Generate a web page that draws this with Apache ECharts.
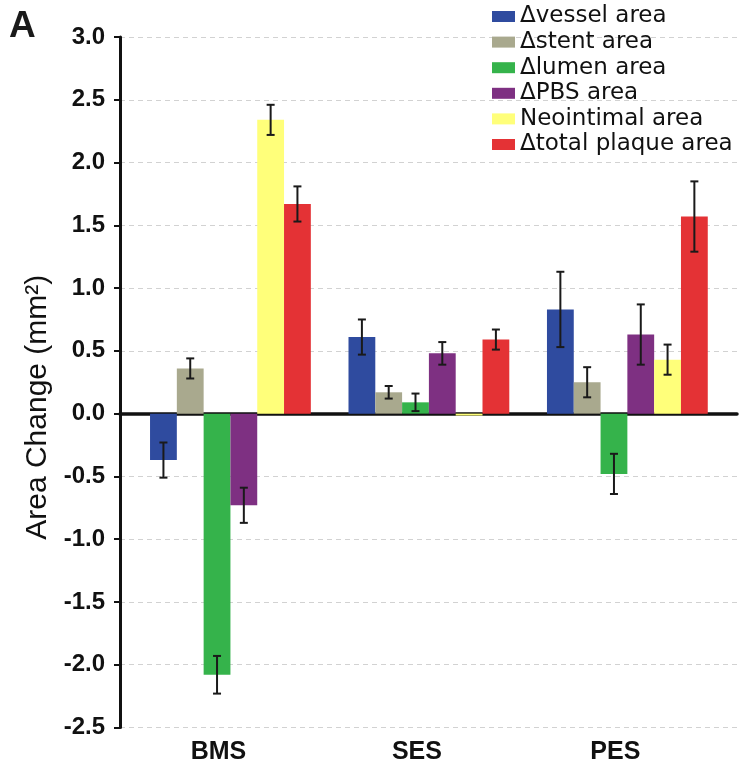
<!DOCTYPE html>
<html>
<head>
<meta charset="utf-8">
<script src="https://cdn.jsdelivr.net/npm/echarts@6/dist/echarts.min.js"></script>
<style>
html,body{margin:0;padding:0;background:#fff;}
#chart{width:739px;height:771px;}
</style>
</head>
<body>
<div id="chart"></div>
<script>
// ---- data ----
const categories = ['BMS', 'SES', 'PES'];
const seriesNames = ['Δvessel area', 'Δstent area', 'Δlumen area', 'ΔPBS area', 'Neointimal area', 'Δtotal plaque area'];
const vessel = [-0.37, 0.61, 0.83];
const vesselErr = [0.14, 0.14, 0.30];
const stent = [0.36, 0.17, 0.25];
const stentErr = [0.08, 0.05, 0.12];
const lumen = [-2.08, 0.09, -0.48];
const lumenErr = [0.15, 0.07, 0.16];
const pbs = [-0.73, 0.48, 0.63];
const pbsErr = [0.14, 0.09, 0.24];
const neointimal = [2.34, -0.015, 0.43];
const neointimalErr = [0.12, 0, 0.12];
const plaque = [1.67, 0.59, 1.57];
const plaqueErr = [0.14, 0.08, 0.28];
const yTicks = ['-2.5', '-2.0', '-1.5', '-1.0', '-0.5', '0.0', '0.5', '1.0', '1.5', '2.0', '2.5', '3.0'];

const values = [vessel, stent, lumen, pbs, neointimal, plaque];
const errors = [vesselErr, stentErr, lumenErr, pbsErr, neointimalErr, plaqueErr];
const colors = ['#2F4B9F', '#A9A98E', '#35B34B', '#7E3082', '#FFFF7A', '#E43235'];
const BAR_W = 26.8;

const errData = [];
values.forEach((arr, k) => {
  arr.forEach((v, c) => errData.push([c, k, v, errors[k][c]]));
});

const chart = echarts.init(document.getElementById('chart'), null, {renderer: 'canvas'});

const barSeries = seriesNames.map((name, k) => ({
  name: name,
  type: 'bar',
  xAxisIndex: 1,
  yAxisIndex: 1,
  data: values[k],
  barWidth: BAR_W,
  barGap: '0%',
  itemStyle: {color: colors[k]},
  emphasis: {disabled: true},
  z: 3
}));

const option = {
  animation: false,
  backgroundColor: '#ffffff',
  title: {
    text: 'A',
    left: 4,
    top: 3,
    textStyle: {fontFamily: 'Liberation Sans', fontWeight: 'bold', fontSize: 37, color: '#1a1a1a'}
  },
  legend: {
    orient: 'vertical',
    left: 492,
    top: 5,
    padding: 0,
    itemWidth: 23,
    itemHeight: 11,
    itemGap: 2.6,
    icon: 'rect',
    data: seriesNames,
    textStyle: {fontFamily: 'DejaVu Sans', fontSize: 23, color: '#111'}
  },
  grid: [
    {left: 120, right: 2, top: 37, bottom: 43.5},
    {left: 131.2, right: 12.4, top: 37, bottom: 43.5}
  ],
  xAxis: [
    {
      gridIndex: 0, type: 'value', min: 0, max: 1,
      axisLine: {show: true, onZero: true, lineStyle: {color: '#111', width: 3.5}},
      axisTick: {show: false}, axisLabel: {show: false}, splitLine: {show: false}
    },
    {
      gridIndex: 1, type: 'category', data: categories,
      axisLine: {show: false}, axisTick: {show: false},
      axisLabel: {
        margin: 12, padding: [0, 24, 0, 0],
        fontFamily: 'Liberation Sans', fontWeight: 'bold', fontSize: 25, color: '#111'
      },
      splitLine: {show: false}
    }
  ],
  yAxis: [
    {
      gridIndex: 0, type: 'value', min: -2.5, max: 3, interval: 0.5,
      name: 'Area Change (mm²)',
      nameLocation: 'middle',
      nameGap: 58,
      nameTextStyle: {fontFamily: 'Liberation Sans', fontSize: 30, color: '#111', padding: [0, 50, 0, 0]},
      axisLine: {show: true, lineStyle: {color: '#111', width: 3}},
      axisTick: {show: true, inside: false, length: 6, lineStyle: {color: '#111', width: 2}},
      axisLabel: {
        margin: 15,
        fontFamily: 'Liberation Sans', fontWeight: 'bold', fontSize: 24, color: '#111',
        formatter: function (v) { return yTicks[Math.round((v + 2.5) / 0.5)]; }
      },
      splitLine: {show: true, lineStyle: {color: '#d2d2d2', width: 1, type: [5, 4]}}
    },
    {
      gridIndex: 1, type: 'value', min: -2.5, max: 3, interval: 0.5, show: false,
      splitLine: {show: false}
    }
  ],
  series: barSeries.concat([{
    type: 'custom',
    name: 'errors',
    xAxisIndex: 1,
    yAxisIndex: 1,
    data: errData,
    encode: {x: 0, y: 2},
    z: 5,
    silent: true,
    renderItem: function (params, api) {
      const c = api.value(0), k = api.value(1), v = api.value(2), e = api.value(3);
      if (!e) return null;
      const top = api.coord([c, v + e]);
      const bot = api.coord([c, v - e]);
      const x = top[0] + (k - 2.5) * BAR_W;
      const cap = 4;
      const st = {stroke: '#1a1a1a', lineWidth: 2};
      return {
        type: 'group',
        children: [
          {type: 'line', shape: {x1: x, y1: top[1], x2: x, y2: bot[1]}, style: st},
          {type: 'line', shape: {x1: x - cap, y1: top[1], x2: x + cap, y2: top[1]}, style: st},
          {type: 'line', shape: {x1: x - cap, y1: bot[1], x2: x + cap, y2: bot[1]}, style: st}
        ]
      };
    }
  }])
};

chart.setOption(option);
</script>
</body>
</html>
